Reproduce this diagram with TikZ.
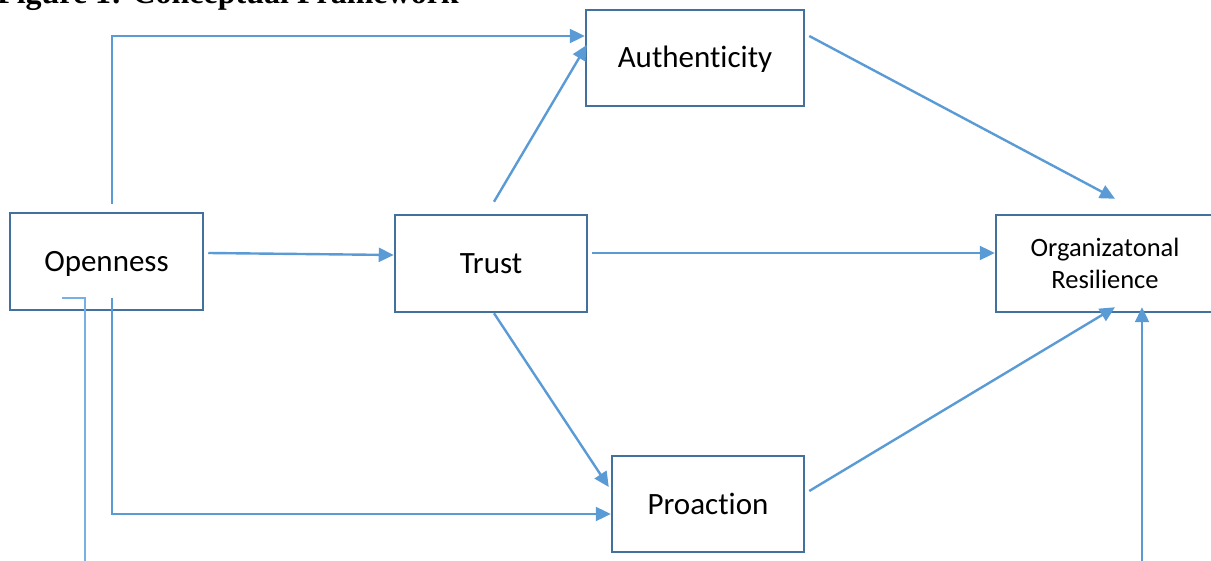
\documentclass[tikz,border=0pt]{standalone}
\usepackage{fontspec}
\setmainfont[Ligatures=NoCommon]{Carlito}
\newfontfamily\titlefont{Liberation Serif}
\usetikzlibrary{arrows.meta,calc}
\definecolor{boxc}{RGB}{65,113,156}
\definecolor{arrc}{RGB}{91,155,213}
\definecolor{thinc}{RGB}{120,175,228}
\tikzset{
  box/.style={draw=boxc,line width=2.5pt,rectangle,inner sep=0pt,align=center,font=\fontsize{31}{33}\selectfont},
  onel/.style={text height=20pt,text depth=0pt},
  conn/.style={draw=arrc,line width=2.4pt,-{Triangle[length=15pt,width=14pt]}},
  thin/.style={draw=thinc,line width=1.6pt},
}
\begin{document}
\begin{tikzpicture}[x=1pt,y=-1pt]
\useasboundingbox (0,0) rectangle (1211,561);
\clip (0,0) rectangle (1211,561);
\node[anchor=base west,font=\titlefont\bfseries\fontsize{32}{34}\selectfont,inner sep=0pt] (title) at (-3,3.5) {Figure 1: Conceptual Framework};
\node[box,onel,minimum width=193pt,minimum height=97pt] (open) at (106.5,261.5) {Openness};
\node[box,onel,minimum width=192pt,minimum height=97pt] (trust) at (491,263.5) {Trust};
\node[box,onel,minimum width=218pt,minimum height=96pt] (auth) at (695,58) {Authenticity};
\node[box,minimum width=218pt,minimum height=97pt,font=\fontsize{26.5}{32}\selectfont] (or) at (1105,263.5) {Organizatonal\\Resilience};
\node[box,onel,minimum width=192pt,minimum height=96pt] (pro) at (708,504) {Proaction};
% connectors
\coordinate (c1) at ($(open.north)+(5.5,-8)$);
\draw[conn] (c1) |- ($(auth.west)+(0,-22)$);
\draw[conn] ($(open.east)+(4,-8.5)$) -- ($(trust.west)+(0,-8.5)$);
\draw[conn] ($(trust.north)+(3,-12)$) -- ($(auth.west)+(2,-13)$);
\draw[conn] ($(auth.east)+(4,-22)$) -- ($(or.north)+(10,-15)$);
\draw[conn] ($(trust.east)+(4,-10.5)$) -- ($(or.west)+(0,-10.5)$);
\draw[conn] ($(trust.south)+(3,0)$) -- ($(pro.west)+(-2,-17)$);
\coordinate (c7) at ($(open.south)+(5.5,-13)$);
\draw[conn] (c7) |- ($(pro.west)+(0,10)$);
\draw[conn] ($(pro.east)+(4,-13)$) -- ($(or.south)+(10,-6)$);
\coordinate (c9) at ($(or.south)+(37,249)$);
\draw[conn] (c9) -- ($(or.south)+(37,-6)$);
\coordinate (t1) at ($(open.south)+(-44.5,-13)$);
\coordinate (t2) at ($(open.south)+(-21.5,251)$);
\draw[thin] (t1) -| (t2);
\end{tikzpicture}
\end{document}
